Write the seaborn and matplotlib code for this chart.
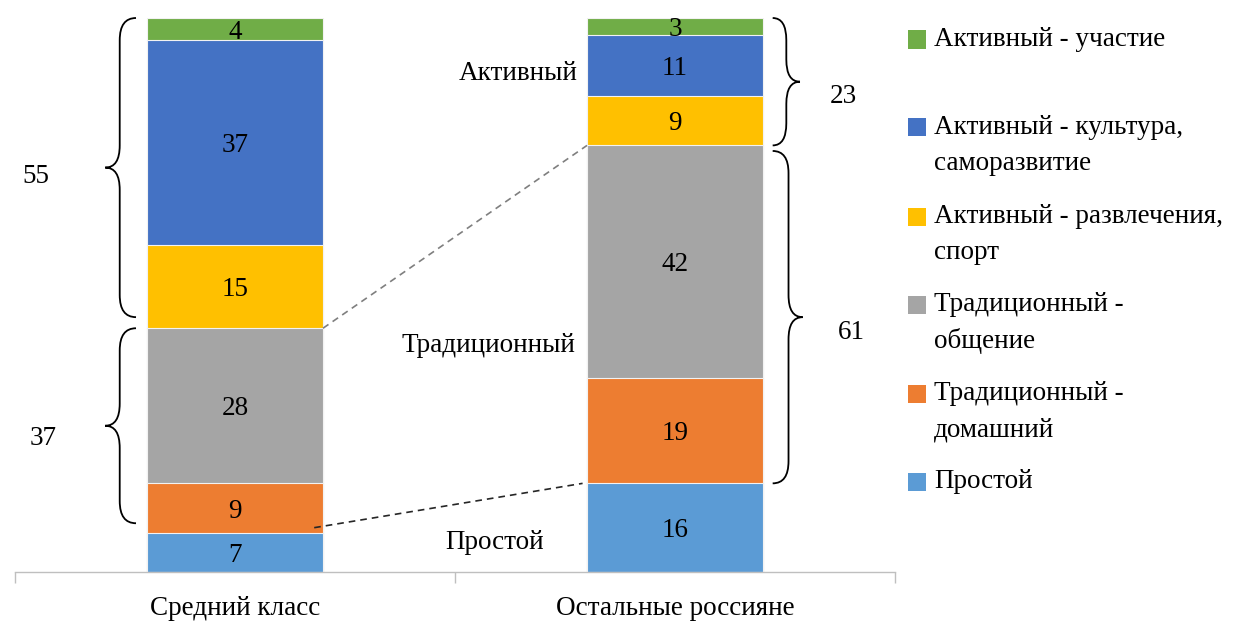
import matplotlib
matplotlib.use("Agg")
import matplotlib.pyplot as plt
from matplotlib.path import Path
from matplotlib.patches import PathPatch, Rectangle
import numpy as np
import pandas as pd
import seaborn as sns

# ---- data ----
categories = ["Средний класс", "Остальные россияне"]
series_names = ["Простой", "Традиционный - домашний", "Традиционный - общение",
                "Активный - развлечения, спорт", "Активный - культура, саморазвитие",
                "Активный - участие"]
legend_labels = ["Простой", "Традиционный -\nдомашний", "Традиционный -\nобщение",
                 "Активный - развлечения,\nспорт", "Активный - культура,\nсаморазвитие",
                 "Активный - участие"]
middle_class = [7, 9, 28, 15, 37, 4]
others = [16, 19, 42, 9, 11, 3]
colors = ["#5B9BD5", "#ED7D31", "#A5A5A5", "#FFC000", "#4472C4", "#70AD47"]
group_labels = ["Активный", "Традиционный", "Простой"]
group_mc = [55, 37]       # left brackets (active, traditional)
group_others = [23, 61]   # right brackets (active, traditional)

sns.set_style("white")
plt.rcParams["font.family"] = ["Liberation Serif", "DejaVu Serif"]
plt.rcParams["text.color"] = "black"
plt.rcParams["xtick.color"] = "black"
FS = 19.5

fig = plt.figure(figsize=(12.51, 6.21), dpi=100)
ax = fig.add_axes([15 / 1251, 49 / 621, 880 / 1251, 554 / 621])

vals = np.array([middle_class, others])  # shape (2, 6)
cum = np.cumsum(vals, axis=1)
bottoms = cum - vals

# draw stacked bars by overplotting cumulative totals (top first)
for j in range(len(series_names) - 1, -1, -1):
    df = pd.DataFrame({"cat": categories, "val": cum[:, j]})
    sns.barplot(data=df, x="cat", y="val", color=colors[j], width=0.4,
                edgecolor="#F2F2F2", linewidth=0.8, ax=ax, saturation=1)

# value labels
for i in range(2):
    for j in range(len(series_names)):
        ax.text(i, bottoms[i, j] + vals[i, j] / 2, str(vals[i, j]),
                ha="center", va="center_baseline", fontsize=FS, color="black")

ax.set_xlim(-0.5, 1.5)
ax.set_ylim(0, 100)
ax.set_yticks([])
ax.set_xlabel("")
ax.set_ylabel("")
for s in ["left", "top", "right"]:
    ax.spines[s].set_visible(False)
ax.spines["bottom"].set_color("#BFBFBF")
ax.spines["bottom"].set_linewidth(1.0)
ax.set_xticks([-0.5, 0.5, 1.5], minor=True)
ax.tick_params(axis="x", which="minor", bottom=True, length=8, color="#BFBFBF", width=1)
ax.tick_params(axis="x", which="major", bottom=True, length=0, pad=17,
               labelsize=FS, labelcolor="black")


def brace(ax, y0, y1, x_stem, x_tip, x_end, r=4.0, lw=1.3, color="black"):
    ym = (y0 + y1) / 2
    verts = [
        (x_end, y1), (x_stem, y1), (x_stem, y1 - r),
        (x_stem, ym + r), (x_stem, ym), (x_tip, ym),
        (x_stem, ym), (x_stem, ym - r),
        (x_stem, y0 + r), (x_stem, y0), (x_end, y0),
    ]
    codes = [Path.MOVETO, Path.CURVE3, Path.CURVE3,
             Path.LINETO, Path.CURVE3, Path.CURVE3,
             Path.CURVE3, Path.CURVE3,
             Path.LINETO, Path.CURVE3, Path.CURVE3]
    ax.add_patch(PathPatch(Path(verts, codes), fill=False, lw=lw,
                           color=color, clip_on=False))


# left braces (Средний класс)
trad_top_mc = cum[0, 2]
brace(ax, 46, 100, -0.262, -0.295, -0.225)
brace(ax, 8.8, trad_top_mc, -0.262, -0.295, -0.225)
ax.text(-0.484, 72, str(group_mc[0]), ha="left", va="center_baseline", fontsize=FS)
ax.text(-0.466, 24.7, str(group_mc[1]), ha="left", va="center_baseline", fontsize=FS)

# right braces (Остальные)
brace(ax, 77, 100, 1.253, 1.284, 1.222)
brace(ax, 16, 76, 1.258, 1.29, 1.222)
ax.text(1.352, 86.3, str(group_others[0]), ha="left", va="center_baseline", fontsize=FS)
ax.text(1.37, 43.7, str(group_others[1]), ha="left", va="center_baseline", fontsize=FS)

# connector lines
ax.plot([0.2, 0.8], [cum[0, 2], cum[1, 2]], ls=(0, (4, 3)), color="#7F7F7F", lw=1.2)
ax.plot([0.18, 0.79], [cum[0, 0] + 1, cum[1, 0]], ls=(0, (4, 3)), color="#262626", lw=1.2)

# group labels
ax.text(0.643, 89.9, group_labels[0], ha="center", va="center", fontsize=FS)
ax.text(0.575, 40.8, group_labels[1], ha="center", va="center", fontsize=FS)
ax.text(0.59, 5.4, group_labels[2], ha="center", va="center", fontsize=FS)

# legend (manual, top to bottom: reverse order)
y_centers_px = [39.5, 127, 216.5, 304.5, 393.5, 481.5]
for k, j in enumerate(range(len(series_names) - 1, -1, -1)):
    yc = y_centers_px[k]
    fig.patches.append(Rectangle(((908) / 1251, 1 - (yc + 9) / 621), 18 / 1251, 18 / 621,
                                 transform=fig.transFigure, facecolor=colors[j],
                                 edgecolor="none"))
    for li, line in enumerate(legend_labels[j].split("\n")):
        fig.text(934 / 1251, 1 - (yc + li * 36) / 621, line, ha="left", va="center",
                 fontsize=FS)

fig.savefig("out.png", dpi=100)
